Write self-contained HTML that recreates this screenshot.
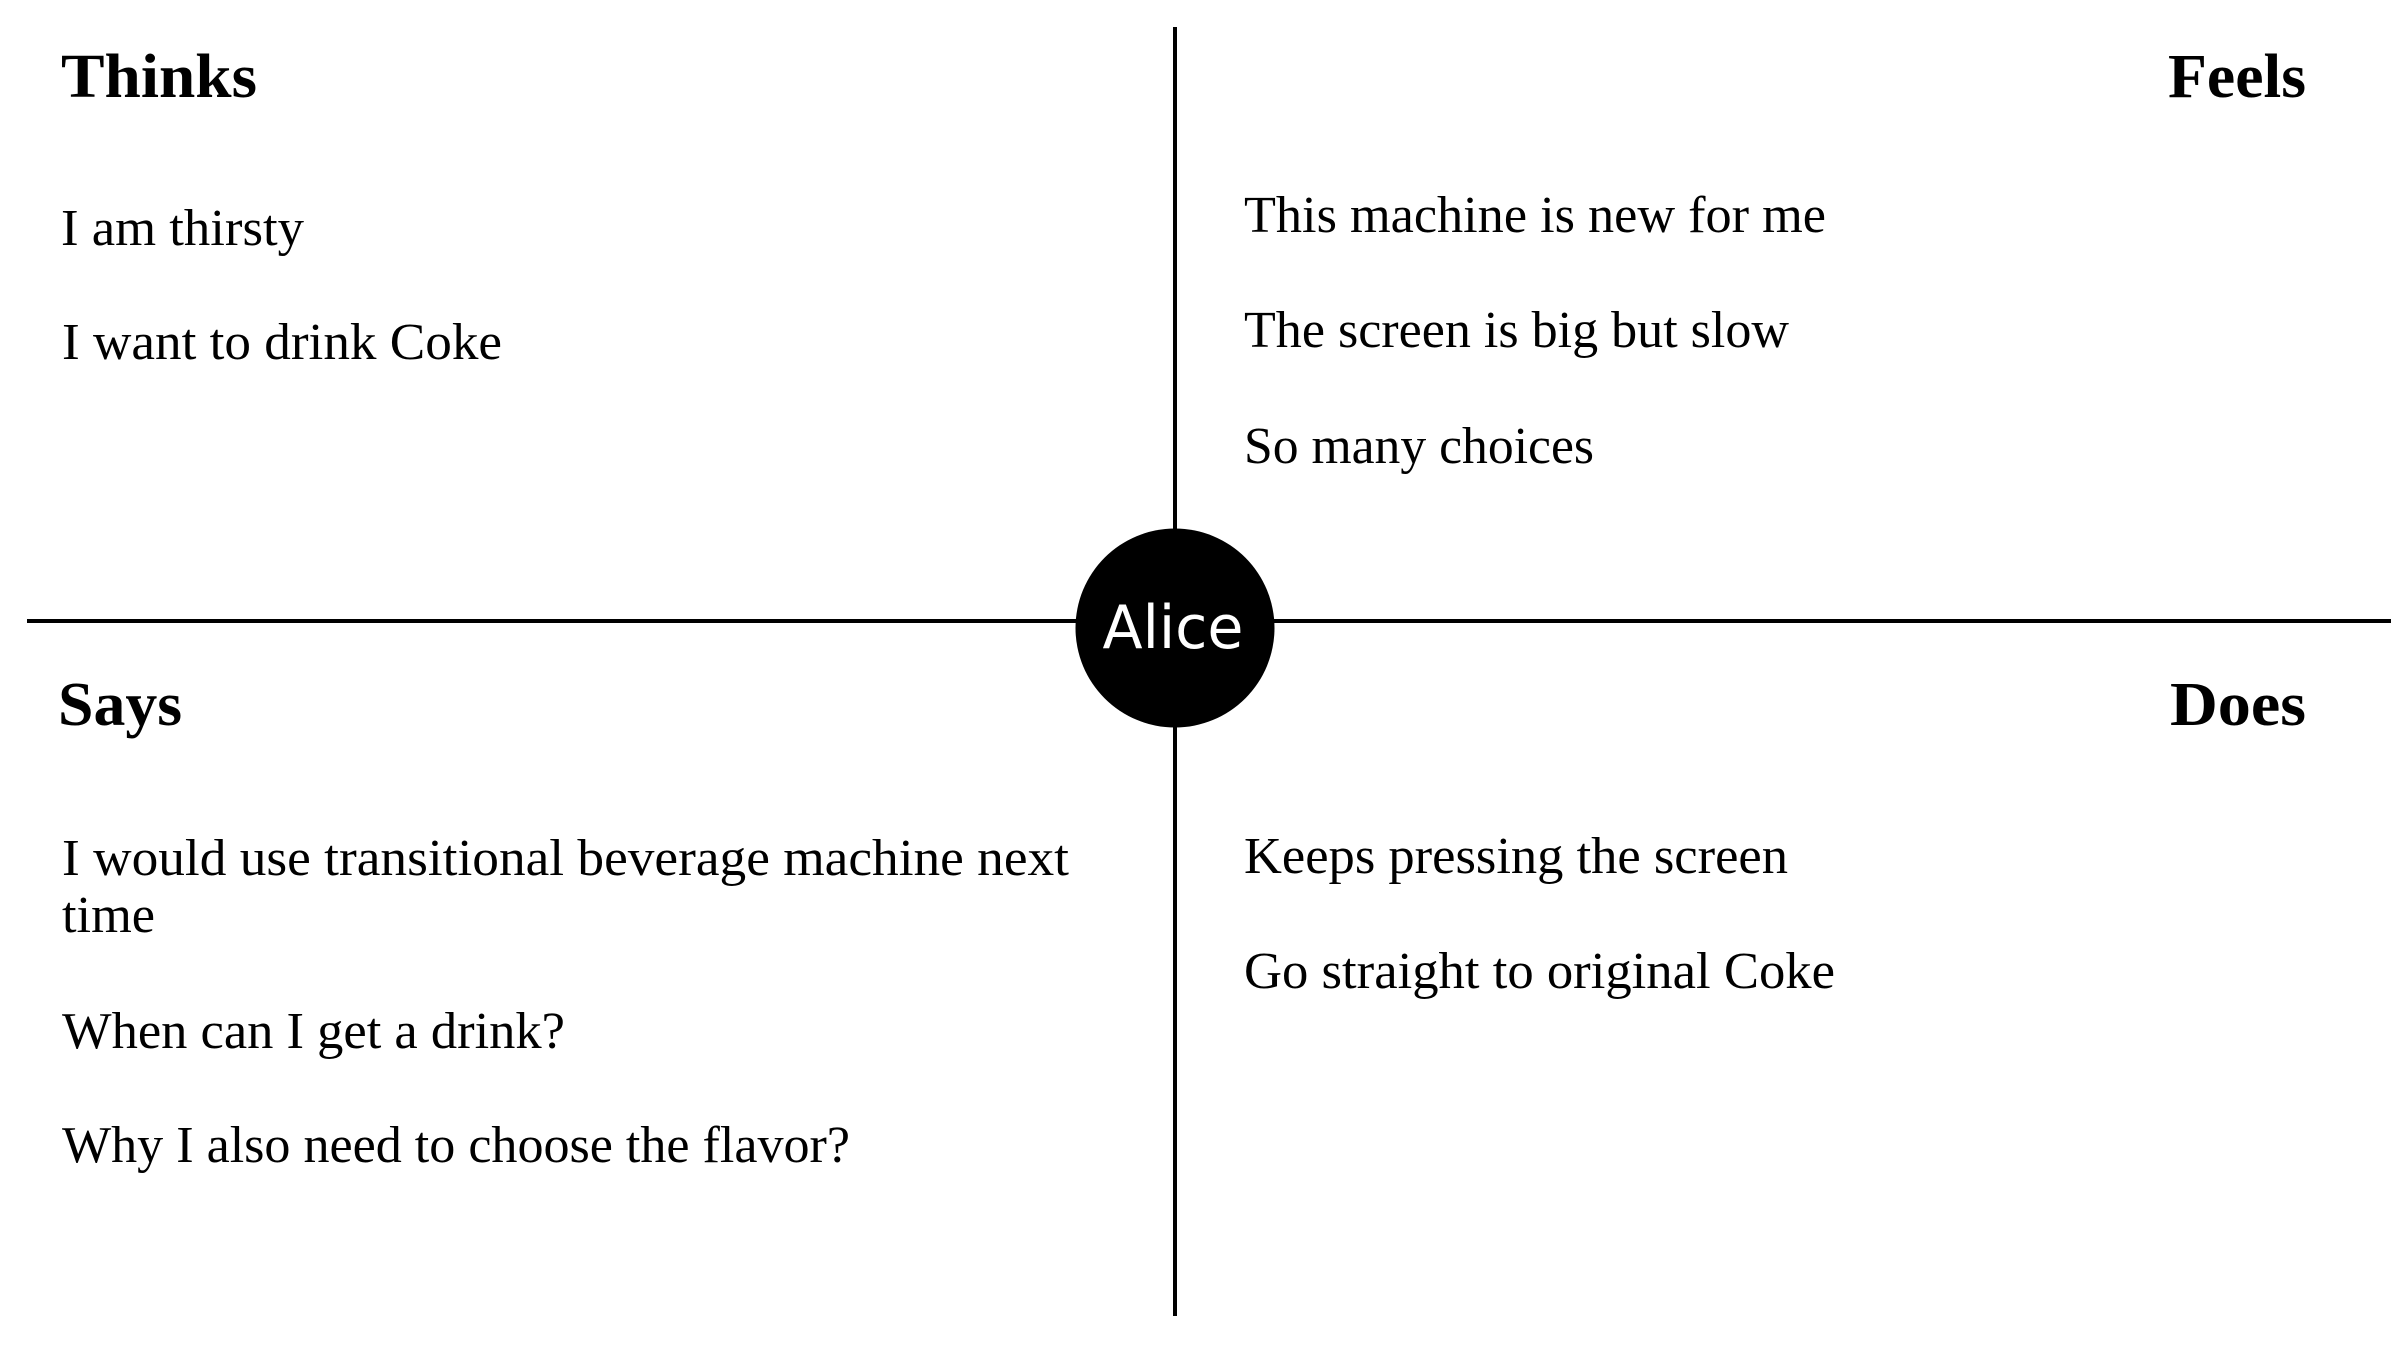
<!DOCTYPE html>
<html><head><meta charset="utf-8"><style>html,body{margin:0;padding:0;background:#fff}svg{display:block}</style></head>
<body>
<svg width="2394" height="1352" viewBox="0 0 2394 1352" xmlns="http://www.w3.org/2000/svg">
<rect width="2394" height="1352" fill="#fff"/>
<line x1="1175" y1="27" x2="1175" y2="1316" stroke="#000" stroke-width="4"/>
<line x1="27" y1="621" x2="2391" y2="621" stroke="#000" stroke-width="4"/>
<circle cx="1175" cy="628" r="99.5" fill="#000"/>
<text x="1173" y="648" fill="#fff" font-family="DejaVu Sans, Liberation Sans, sans-serif" font-size="60" text-anchor="middle" textLength="141" lengthAdjust="spacingAndGlyphs">Alice</text>
<g font-family="Liberation Serif, serif" font-weight="bold" font-size="62" fill="#000">
<text x="61" y="97" textLength="196" lengthAdjust="spacingAndGlyphs">Thinks</text>
<text x="2168" y="97" textLength="138" lengthAdjust="spacingAndGlyphs">Feels</text>
<text x="58" y="725" textLength="124" lengthAdjust="spacingAndGlyphs">Says</text>
<text x="2170" y="725" textLength="136" lengthAdjust="spacingAndGlyphs">Does</text>
</g>
<g font-family="Liberation Serif, serif" font-size="52" fill="#000" lengthAdjust="spacingAndGlyphs">
<text x="61" y="245" textLength="243" lengthAdjust="spacingAndGlyphs">I am thirsty</text>
<text x="62" y="359" textLength="440" lengthAdjust="spacingAndGlyphs">I want to drink Coke</text>
<text x="1244" y="232" textLength="582" lengthAdjust="spacingAndGlyphs">This machine is new for me</text>
<text x="1244" y="347" textLength="545" lengthAdjust="spacingAndGlyphs">The screen is big but slow</text>
<text x="1244" y="463" textLength="350" lengthAdjust="spacingAndGlyphs">So many choices</text>
<text x="62" y="875" textLength="1007" lengthAdjust="spacingAndGlyphs">I would use transitional beverage machine next</text>
<text x="62" y="932" textLength="93" lengthAdjust="spacingAndGlyphs">time</text>
<text x="62" y="1048" textLength="503" lengthAdjust="spacingAndGlyphs">When can I get a drink?</text>
<text x="62" y="1162" textLength="788" lengthAdjust="spacingAndGlyphs">Why I also need to choose the flavor?</text>
<text x="1244" y="873" textLength="544" lengthAdjust="spacingAndGlyphs">Keeps pressing the screen</text>
<text x="1244" y="988" textLength="591" lengthAdjust="spacingAndGlyphs">Go straight to original Coke</text>
</g>
</svg>
</body></html>
